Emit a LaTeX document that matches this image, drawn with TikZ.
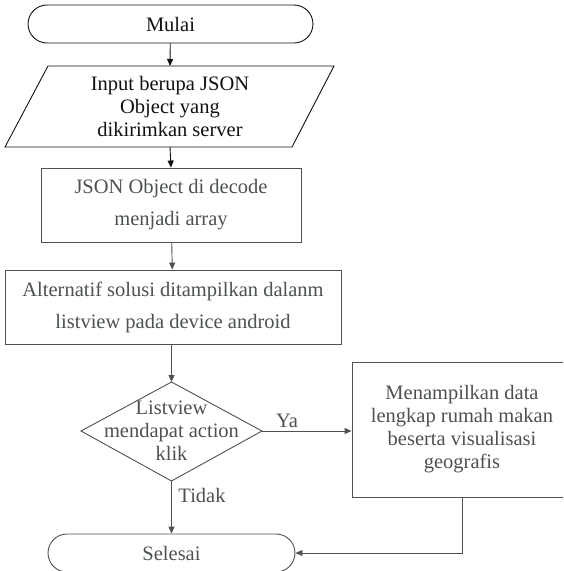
\documentclass[tikz,border=0pt]{standalone}
\usepackage{fontspec}
\setmainfont{Liberation Serif}
\usetikzlibrary{arrows.meta,shapes.geometric}
\definecolor{ink}{HTML}{111111}
\definecolor{dim}{HTML}{4C524E}
\tikzset{
  txt/.style={font=\fontsize{20.5}{23}\selectfont, align=center, inner sep=0pt},
  wide/.style={font=\fontsize{20.5}{32}\selectfont},
  terminal/.style={txt, draw, rounded corners=19pt, minimum height=38pt, line width=0.9pt},
  process/.style={txt, draw, line width=0.9pt},
  decision/.style={txt, draw, diamond, aspect=1.83, line width=0.9pt},
  flow/.style={line width=0.9pt, -{Triangle[length=7pt,width=6pt]}},
  lbl/.style={font=\fontsize{20.5}{23}\selectfont, inner sep=0pt}
}
\begin{document}
\begin{tikzpicture}[x=1pt,y=-1pt]
  \clip (0,0) rectangle (563,571);

  % start terminal
  \node[terminal, draw=ink, text=ink, minimum width=285pt] (start) at (170.5,24) {Mulai};

  % input parallelogram (text node + outline drawn around it)
  \node[txt, text=ink, minimum width=200pt, minimum height=81pt] (inp) at (170,106.5)
    {Input berupa JSON\\Object yang\\dikirimkan server};
  \draw[ink, line width=0.9pt] (48,66) -- (334,66) -- (292,147) -- (5,147) -- cycle;

  % processing boxes
  \node[process, wide, draw=dim, text=dim, minimum width=260pt, minimum height=74pt] (dec) at (171,205)
    {JSON Object di decode\\menjadi array};
  \node[process, wide, draw=dim, text=dim, minimum width=336pt, minimum height=74pt] (list) at (173,307)
    {Alternatif solusi ditampilkan dalanm\\listview pada device android};

  % decision
  \node[txt, draw=none, text=dim] (ask) at (171.5,431) {Listview\\mendapat action\\klik};
  \draw[dim, line width=0.9pt] (81,431) -- (171.5,382) -- (262,431) -- (171.5,481) -- cycle;
  \coordinate (askN) at (171.5,382);
  \coordinate (askE) at (262,431);
  \coordinate (askS) at (171.5,481);

  % detail box
  \node[process, draw=dim, text=dim, minimum width=220pt, minimum height=135pt] (show) at (462,429.5)
    {Menampilkan data\\lengkap rumah makan\\beserta visualisasi\\geografis};

  % end terminal
  \node[terminal, draw=dim, text=dim, minimum width=247pt] (stop) at (171.5,553) {Selesai};

  % connectors
  \draw[flow, ink] (start) -- (inp.north |- 0,66);
  \draw[flow, ink] (inp.south |- 0,147) -- (dec.north);
  \draw[flow, dim] (dec) -- (list);
  \draw[flow, dim] (list.south -| askN) -- (askN);
  \draw[flow, dim] (askE) -- (show.west |- askE);
  \draw[flow, dim] (askS) -- (stop.north -| askS);
  \draw[flow, dim] (show.south) |- (stop.east);

  % branch labels
  \node[lbl, text=dim] (ya) at (287,421) {Ya};
  \node[lbl, text=dim] (tidak) at (202,495) {Tidak};
\end{tikzpicture}
\end{document}
